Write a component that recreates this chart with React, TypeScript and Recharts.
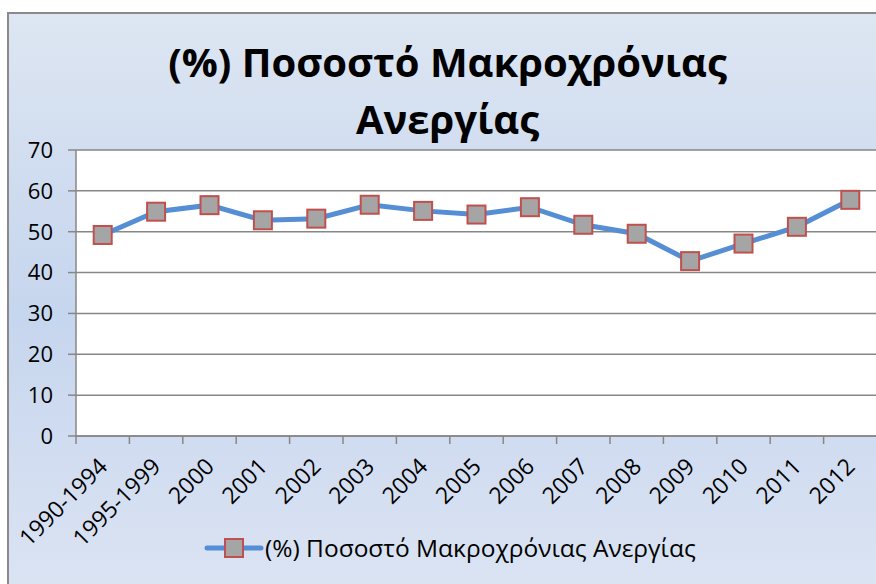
import React from "react";
import { LineChart, Line, XAxis, YAxis, CartesianGrid } from "recharts";

const periods = ["1990-1994", "1995-1999", "2000", "2001", "2002", "2003", "2004", "2005", "2006", "2007", "2008", "2009", "2010", "2011", "2012"];
const rates = [49.2, 54.9, 56.5, 52.8, 53.2, 56.6, 55.1, 54.2, 56.0, 51.7, 49.5, 42.8, 47.1, 51.2, 57.8];
const yTicks = [0, 10, 20, 30, 40, 50, 60, 70];
const seriesName = "(%) Ποσοστό Μακροχρόνιας Ανεργίας";

const data = periods.map((p, i) => ({ period: p, rate: rates[i] }));

const font = "'Open Sans', 'Noto Sans', sans-serif";
const plotW = 801;
const band = plotW / periods.length;

function Square(props: any) {
  const { cx, cy } = props;
  if (cx == null || cy == null) return null;
  return <rect x={cx - 9} y={cy - 9} width={18} height={18} fill="#a5a5a5" stroke="#c0504d" strokeWidth={2} />;
}

function XTick(props: any) {
  const { x, y, payload } = props;
  const px = x + 6;
  const py = y + 24;
  return (
    <g>
      <line x1={x - band / 2} y1={436} x2={x - band / 2} y2={444} stroke="#878787" strokeWidth={1.5} />
      <text x={px} y={py} transform={`rotate(-45 ${px} ${py})`} textAnchor="end" fontSize={23} fill="#000" fontFamily={font}>
        {payload.value}
      </text>
    </g>
  );
}

export default function App() {
  return (
    <div style={{ position: "absolute", left: 0, top: 0, width: 876, height: 584, overflow: "hidden", background: "#fff" }}>
      <div
        style={{
          position: "absolute",
          left: 7,
          top: 12,
          width: 900,
          height: 600,
          borderLeft: "2px solid #8a8a8a",
          borderTop: "2px solid #8a8a8a",
          background: "linear-gradient(180deg, #dde6f2 0%, #d1ddf0 25%, #c6d6ee 50%, #d2ddf1 75%, #dce5f3 100%)",
        }}
      />
      <div style={{ position: "absolute", left: 0, width: 895, top: 33, textAlign: "center", fontFamily: font, fontWeight: 700, fontSize: 40, lineHeight: "57px", color: "#000" }}>
        (%) Ποσοστό Μακροχρόνιας
        <br />
        Ανεργίας
      </div>
      <div style={{ position: "absolute", left: 0, top: 0 }}>
        <LineChart width={880} height={584} data={data} margin={{ top: 150, right: 3, bottom: 88, left: 0 }}>
          <CartesianGrid vertical={false} stroke="#878787" strokeWidth={1.5} fill="#ffffff" />
          <XAxis
            dataKey="period"
            interval={0}
            height={60}
            padding={{ left: band / 2, right: band / 2 }}
            tickLine={false}
            axisLine={{ stroke: "#878787", strokeWidth: 1.5 }}
            tick={<XTick />}
          />
          <YAxis
            domain={[0, 70]}
            ticks={yTicks}
            width={76}
            tickSize={8}
            tickMargin={15}
            interval={0}
            axisLine={{ stroke: "#878787", strokeWidth: 1.5 }}
            tickLine={{ stroke: "#878787", strokeWidth: 1.5 }}
            tick={{ fill: "#000", fontSize: 22, fontFamily: font }}
          />
          <Line
            type="linear"
            dataKey="rate"
            name={seriesName}
            stroke="#558ed5"
            strokeWidth={5}
            dot={<Square />}
            activeDot={false}
            isAnimationActive={false}
          />
        </LineChart>
      </div>
      <div style={{ position: "absolute", left: 204, top: 532, display: "flex", alignItems: "center", fontFamily: font, fontSize: 24.5, color: "#000" }}>
        <svg width={60} height={24}>
          <line x1={3} y1={12} x2={57} y2={12} stroke="#558ed5" strokeWidth={5} strokeLinecap="round" />
          <rect x={21} y={3} width={18} height={18} fill="#a5a5a5" stroke="#c0504d" strokeWidth={2} />
        </svg>
        <span style={{ marginLeft: 1, lineHeight: "32px" }}>{seriesName}</span>
      </div>
    </div>
  );
}
